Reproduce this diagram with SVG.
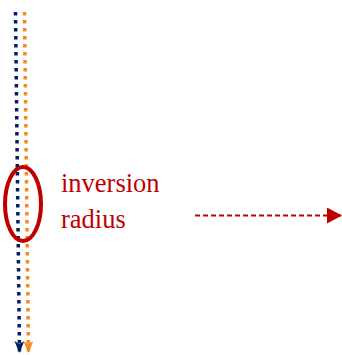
<svg xmlns="http://www.w3.org/2000/svg" width="342" height="355" viewBox="0 0 342 355">
<style>
.dot{fill:none;stroke-width:3.5;stroke-dasharray:3.5 4.5}
.lbl{font-family:"Liberation Serif","Times New Roman",serif;font-size:26.5px;fill:#C00000}
</style>
<defs>
<marker id="ab" viewBox="0 0 12 10" refX="11" refY="5" markerWidth="12" markerHeight="10" markerUnits="userSpaceOnUse" orient="auto">
<path d="M0,0 L12,5 L0,10 L3,5 Z" fill="#002060"/>
</marker>
<marker id="ao" viewBox="0 0 12 10" refX="11" refY="5" markerWidth="12" markerHeight="10" markerUnits="userSpaceOnUse" orient="auto">
<path d="M0,0 L12,5 L0,10 L3,5 Z" fill="#F28A1E"/>
</marker>
<marker id="ar" viewBox="0 0 15 16" refX="14" refY="8" markerWidth="15" markerHeight="16" markerUnits="userSpaceOnUse" orient="auto">
<path d="M0,0 L15,8 L0,16 Z" fill="#C00000"/>
</marker>
</defs>
<g id="connectors">
<line x1="15.5" y1="12" x2="19.5" y2="352" class="dot" stroke="#002060" marker-end="url(#ab)"/>
<line x1="24.5" y1="12" x2="28.5" y2="352" class="dot" stroke="#F28A1E" marker-end="url(#ao)"/>
<line x1="195" y1="215.5" x2="341" y2="215.5" stroke="#C00000" stroke-width="2" stroke-dasharray="5 3" marker-end="url(#ar)"/>
</g>
<g id="ellipse">
<ellipse cx="23" cy="204" rx="18" ry="37" fill="none" stroke="#C00000" stroke-width="4"/>
</g>
<g id="label">
<text class="lbl" x="61" y="192">inversion</text>
<text class="lbl" x="61" y="228">radius</text>
</g>
</svg>
